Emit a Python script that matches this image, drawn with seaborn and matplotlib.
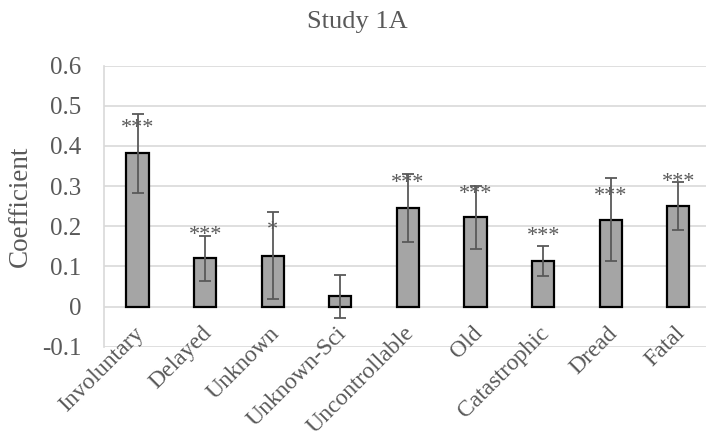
import matplotlib
matplotlib.use("Agg")
import matplotlib.pyplot as plt
import seaborn as sns
import pandas as pd
import numpy as np

categories = ["Involuntary", "Delayed", "Unknown", "Unknown-Sci", "Uncontrollable",
              "Old", "Catastrophic", "Dread", "Fatal"]
coefficients = [0.382, 0.120, 0.127, 0.026, 0.245, 0.222, 0.114, 0.216, 0.250]
errors = [0.098, 0.055, 0.108, 0.053, 0.084, 0.078, 0.038, 0.103, 0.060]
stars = ["***", "***", "*", "", "***", "***", "***", "***", "***"]
star_y = [0.453, 0.187, 0.200, None, 0.316, 0.289, 0.184, 0.284, 0.318]
yticks = [-0.1, 0, 0.1, 0.2, 0.3, 0.4, 0.5, 0.6]
ytick_labels = ["-0.1", "0", "0.1", "0.2", "0.3", "0.4", "0.5", "0.6"]

sns.set_theme(style="white")
plt.rcParams["font.family"] = ["Liberation Serif", "DejaVu Serif"]

gray_text = "#595959"
df = pd.DataFrame({"Category": categories, "Coefficient": coefficients})

fig = plt.figure(figsize=(7.06, 4.43), dpi=100)
ax = fig.add_axes([0.147, 0.217, 0.853, 0.635])

sns.barplot(data=df, x="Category", y="Coefficient", color="#A5A5A5", width=0.33,
            saturation=1, edgecolor="black", linewidth=1.6, errorbar=None, ax=ax, zorder=3)
xs = np.arange(len(categories))
ax.errorbar(xs, coefficients, yerr=errors, fmt="none", ecolor=gray_text,
            elinewidth=1.3, capsize=4, capthick=1.3, zorder=4)

# star labels: star_y gives the visual centre of the asterisks
for x, s, y in zip(xs, stars, star_y):
    if s:
        ax.text(x, y - 0.021, s, ha="center", va="baseline", fontsize=16,
                color=gray_text, zorder=5)

ax.set_ylim(-0.1, 0.6)
ax.set_xlim(-0.5, 8.41)
ax.set_yticks(yticks)
ax.set_yticklabels(ytick_labels)
ax.yaxis.grid(True, color="#D9D9D9", linewidth=1.2, zorder=0)
ax.set_axisbelow(True)
for side in ["top", "right", "bottom"]:
    ax.spines[side].set_visible(False)
ax.spines["left"].set_color("#D9D9D9")
ax.spines["left"].set_linewidth(1.2)

ax.tick_params(axis="y", labelsize=18, colors=gray_text, length=0, pad=16)
ax.set_xticks(xs)
ax.set_xticklabels([])
ax.tick_params(axis="x", length=0)
# category labels sit just below the zero line (Excel style)
for x, c in zip(xs, categories):
    ax.text(x - 0.06, -0.04, c, ha="right", va="top", rotation=45,
            rotation_mode="anchor", fontsize=17, color=gray_text, clip_on=False)

ax.set_xlabel("")
ax.set_ylabel("Coefficient", fontsize=19.5, color=gray_text)
ax.yaxis.set_label_coords(-0.118, 0.5)
fig.text(0.506, 0.937, "Study 1A", ha="center", va="baseline", fontsize=19, color=gray_text)

fig.savefig("out.png", dpi=100)
